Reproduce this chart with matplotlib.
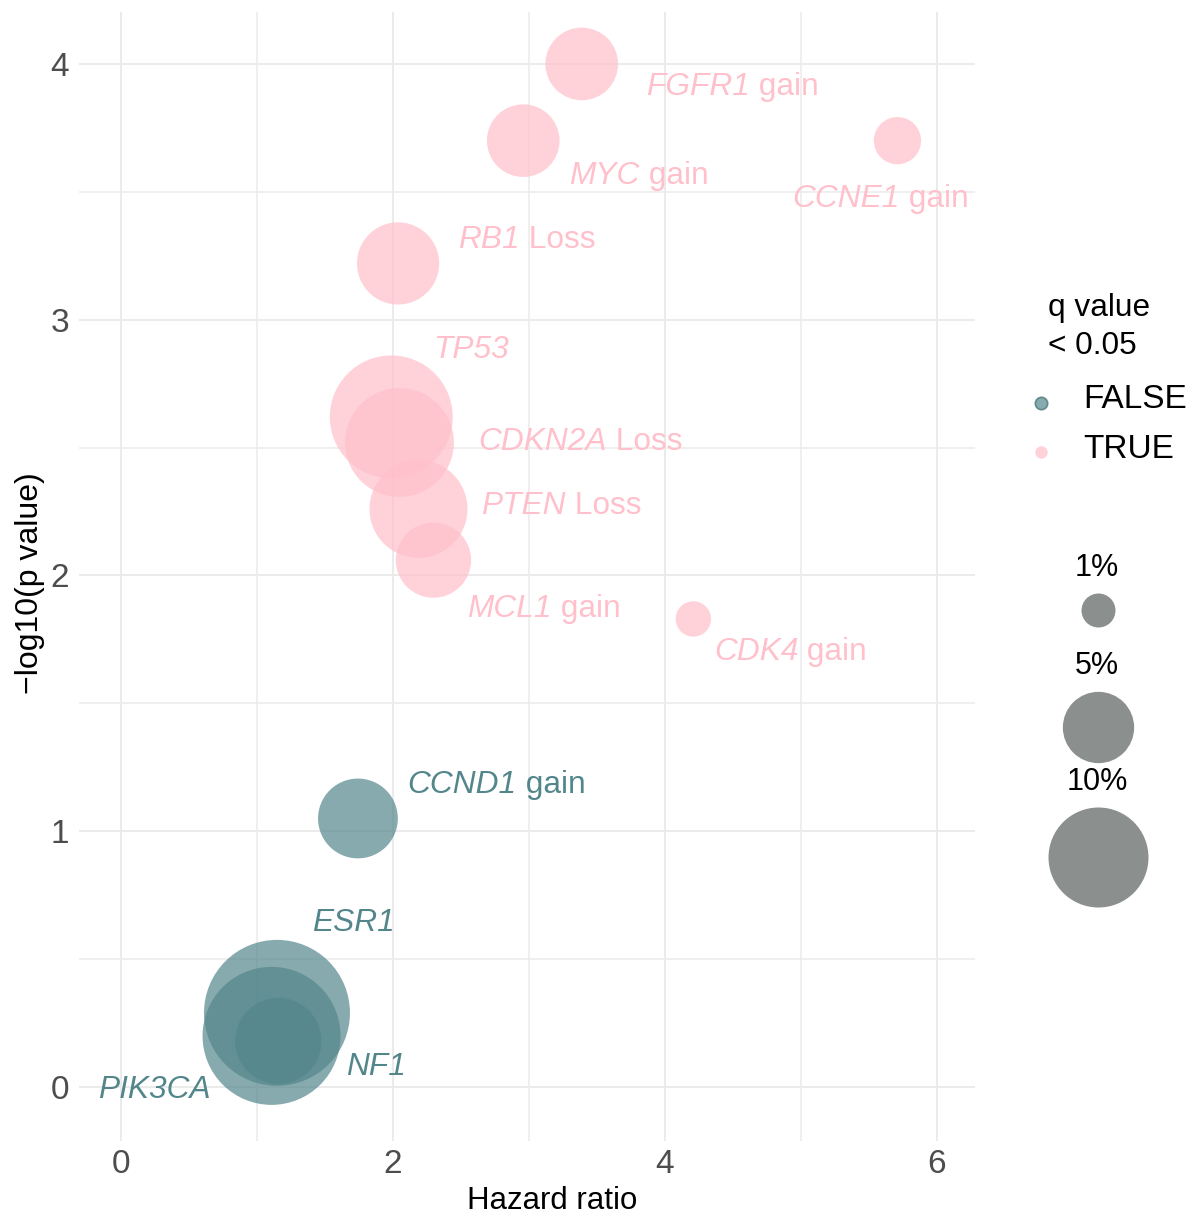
import numpy as np
import matplotlib
matplotlib.use("Agg")
import matplotlib.pyplot as plt

plt.rcParams['font.family'] = ['Liberation Sans', 'DejaVu Sans']

# alteration, hazard ratio, -log10(p), frequency (%), q < 0.05
genes    = ["FGFR1", "MYC", "CCNE1", "RB1", "TP53", "CDKN2A", "PTEN", "MCL1",
            "CDK4", "CCND1", "ESR1", "PIK3CA", "NF1"]
kind     = ["gain", "gain", "gain", "Loss", "", "Loss", "Loss", "gain",
            "gain", "gain", "", "", ""]
hazard   = [3.39, 2.96, 5.71, 2.04, 1.99, 2.05, 2.19, 2.30, 4.21, 1.745, 1.15, 1.11, 1.16]
neglogp  = [4.00, 3.70, 3.70, 3.22, 2.62, 2.52, 2.26, 2.06, 1.83, 1.05, 0.29, 0.20, 0.18]
freq     = [5.2, 5.2, 2.1, 6.7, 15.2, 11.9, 9.6, 5.6, 1.1, 6.3, 21.5, 19.2, 7.4]
q_sig    = [True, True, True, True, True, True, True, True, True,
            False, False, False, False]

# repelled label anchors (left edge, vertical centre)
label_x  = [3.86, 3.30, 4.94, 2.48, 2.30, 2.63, 2.65, 2.55, 4.36, 2.11, 1.41, -0.165, 1.66]
label_y  = [3.91, 3.56, 3.47, 3.31, 2.88, 2.52, 2.27, 1.87, 1.70, 1.18, 0.64, -0.01, 0.08]

size_breaks = [1, 5, 10]

DPI = 100
col_true = "#FFC0CB"
col_false = "#53868B"


def marker_area(pct):
  # area grows linearly with the frequency
  r_px = np.sqrt(43 + 245.7*np.asarray(pct, dtype=float))
  return (2*r_px*72/DPI)**2


fig = plt.figure(figsize=(11.99, 12.16), dpi=DPI)
W, H = 1199, 1216
ax = fig.add_axes([79/W, 1-1141/H, (975-79)/W, (1141-12)/H])

ax.set_xlim(-0.305, 6.28)
ax.set_ylim(-0.211, 4.203)
ax.set_xticks([0, 2, 4, 6])
ax.set_xticks([1, 3, 5], minor=True)
ax.set_yticks([0, 1, 2, 3, 4])
ax.set_yticks([0.5, 1.5, 2.5, 3.5], minor=True)
ax.grid(which='major', color='#EBEBEB', linewidth=1.4)
ax.grid(which='minor', color='#EBEBEB', linewidth=1.1)
ax.set_axisbelow(True)
for s in ax.spines.values():
  s.set_visible(False)
ax.tick_params(which='both', length=0, labelsize=24, labelcolor='#4D4D4D')
ax.tick_params(axis='x', pad=6)
ax.tick_params(axis='y', pad=7)

hx = np.array(hazard)
hy = np.array(neglogp)
sig = np.array(q_sig)
fr = np.array(freq)

ax.scatter(hx[~sig], hy[~sig], s=marker_area(fr[~sig]), color=col_false,
           alpha=0.7, linewidths=0)
ax.scatter(hx[sig], hy[sig], s=marker_area(fr[sig]), color=col_true,
           alpha=0.7, linewidths=0)

# gene name in italics, alteration type upright right after it
for g, k, lx, ly, q in zip(genes, kind, label_x, label_y, q_sig):
  c = col_true if q else col_false
  t = ax.text(lx, ly, g, fontsize=22.8, color=c, style='italic',
              ha='left', va='center')
  if k:
    ax.annotate(" " + k, xy=(1, 0), xycoords=t, fontsize=22.8, color=c,
                ha='left', va='bottom')

ax.set_xlabel("Hazard ratio", fontsize=22.5, color='black')
ax.xaxis.set_label_coords((552-79)/896, -60/1129)
ax.xaxis.label.set_va('center')
ax.set_ylabel("\u2212log10(p value)", fontsize=23, color='black')
ax.yaxis.set_label_coords((30-79)/896, (1141-583)/1129)
ax.yaxis.label.set_va('center')

# legends, laid out in figure pixels
lg = fig.add_axes([0, 0, 1, 1], facecolor='none')
lg.set_xlim(0, W)
lg.set_ylim(H, 0)
lg.axis('off')

lg.text(1048, 308, "q value", fontsize=22.8, ha='left', va='center')
lg.text(1048, 346, "< 0.05", fontsize=22.8, ha='left', va='center')
lg.scatter([1041], [403], s=marker_area(0)*0.9, color=col_false, alpha=0.7,
           edgecolors='#3E6E72', linewidths=1.2)
lg.scatter([1041], [452], s=marker_area(0)*0.9, color=col_true, alpha=0.7,
           linewidths=0)
lg.text(1083, 400, "FALSE", fontsize=24, ha='left', va='center')
lg.text(1083, 450, "TRUE", fontsize=24, ha='left', va='center')

for b, ty, cy in zip(size_breaks, [568, 666, 782], [610, 727, 857]):
  lg.text(1097, ty, "%d%%" % b, fontsize=22, ha='center', va='center')
  lg.scatter([1098], [cy], s=marker_area(b), color='#8B8F8E', linewidths=0)

fig.savefig("out.png", dpi=DPI)
